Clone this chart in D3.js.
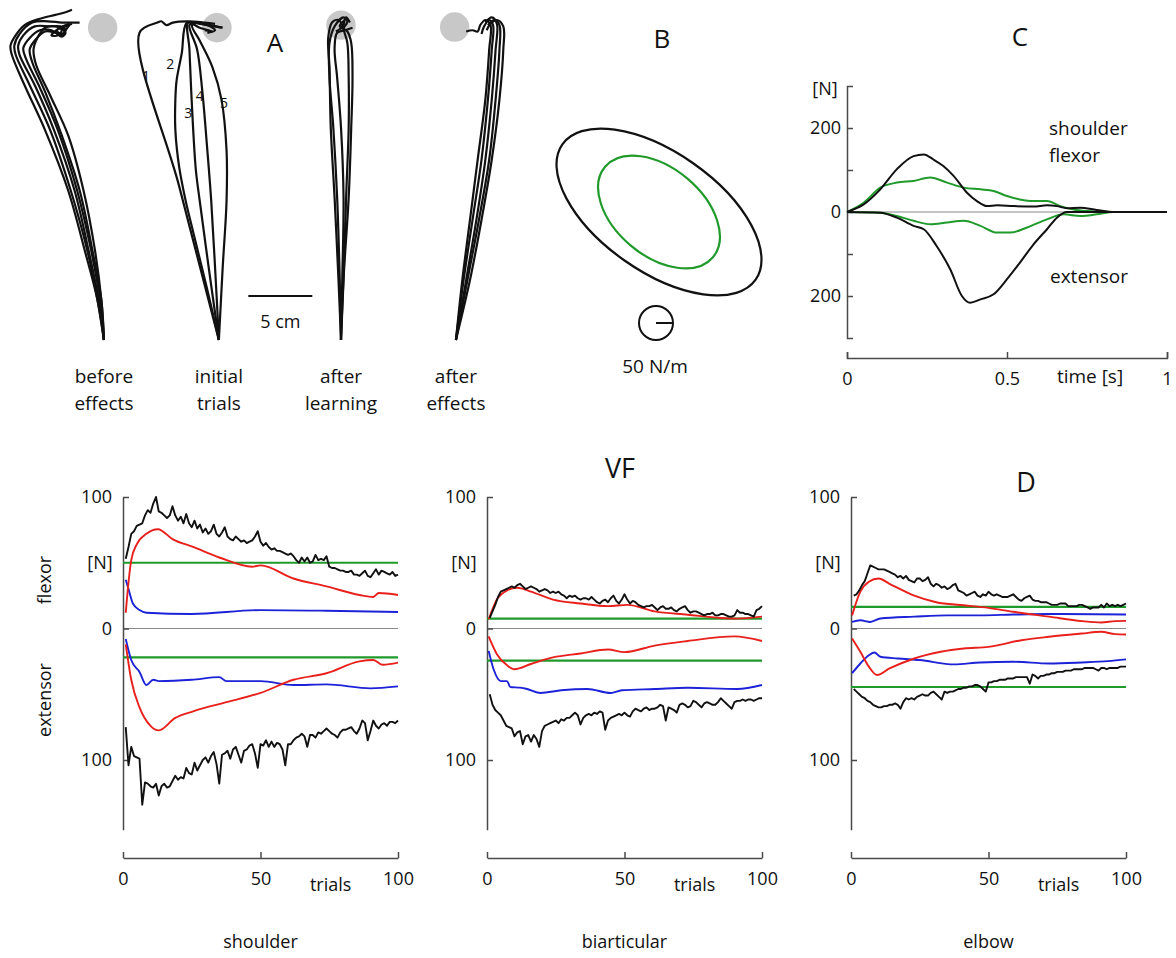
<!DOCTYPE html>
<html lang="en">
<head>
<meta charset="UTF-8">
<title>Force field learning</title>
<script src="https://d3js.org/d3.v7.min.js"></script>
<style>
  body { margin: 0; background: #fff; }
  text { font-family: "Open Sans", sans-serif; fill: #111; }
</style>
</head>
<body>
<svg width="1176" height="958"></svg>
<script>
// ---------- panel A: hand paths (cm, relative to start point) ----------
const groupNames = [["before", "effects"], ["initial", "trials"], ["after", "learning"], ["after", "effects"]];
const groupStartCm = [8.12, 17.1, 26.64, 35.62];
const targetCm = [[-0.1, 24.4], [-0.15, 24.4], [0, 24.6], [-0.1, 24.45]];

const beforeEffects = [
  [[0,0],[-0.5,3.1],[-1.5,7.0],[-2.8,11.7],[-4.6,16.4],[-6.2,19.9],[-7.2,22.3],[-7.3,23.0],[-6.9,23.8],[-6.2,24.6],[-5.0,25.1],[-3.8,25.4],[-3.0,25.6],[-2.5,25.8]],
  [[0,0],[-0.5,3.1],[-1.3,7.0],[-2.6,11.7],[-4.2,16.4],[-5.8,19.9],[-6.9,22.3],[-7.0,23.0],[-6.6,23.9],[-5.6,24.8],[-4.4,24.9],[-3.3,24.8],[-2.3,24.8],[-1.9,24.8]],
  [[0,0],[-0.4,3.1],[-1.2,7.0],[-2.3,11.7],[-3.9,16.4],[-5.4,19.9],[-6.6,22.3],[-6.7,23.0],[-6.3,23.8],[-5.4,24.5],[-4.2,24.5],[-3.4,24.5],[-3.0,24.2],[-3.3,23.9],[-3.7,24.2],[-3.0,24.5],[-2.5,24.7]],
  [[0,0],[-0.3,3.1],[-1.0,7.0],[-2.1,11.7],[-3.6,16.4],[-5.0,19.7],[-6.1,22.0],[-6.3,22.8],[-5.8,23.6],[-5.0,24.2],[-4.1,24.2],[-3.3,23.8],[-3.0,24.2],[-2.7,24.6]],
  [[0,0],[-0.2,3.1],[-0.9,7.0],[-1.9,11.7],[-3.3,16.0],[-4.6,19.4],[-5.6,21.7],[-5.8,22.7],[-5.4,23.4],[-4.6,24.1],[-3.8,24.0],[-3.3,23.7],[-3.0,24.0],[-3.3,24.4],[-2.8,24.6]],
  [[0,0],[-0.2,3.1],[-0.7,7.0],[-1.6,11.7],[-2.8,16.0],[-4.2,19.1],[-5.3,21.5],[-5.5,22.7],[-5.2,23.6],[-4.6,24.4],[-3.8,24.5],[-3.3,24.2],[-3.6,23.8],[-4.1,23.8],[-3.4,24.4],[-2.7,24.7]]
];
const initialTrials = [
  [[0,0],[-3.1,12.0],[-6.2,24.0],[-4.8,24.8],[-4.5,24.9],[-4.1,24.6],[-3.6,24.8],[-2.5,24.9],[-1.1,24.8],[-0.3,24.7]],
  [[0,0],[-0.9,3.9],[-2.0,8.4],[-2.6,10.9],[-3.1,13.5],[-3.4,16.4],[-3.4,18.8],[-3.3,20.3],[-2.9,22.4],[-2.5,24.8],[-1.5,24.7],[-0.3,24.5],[0.3,24.4]],
  [[0,0],[-0.8,5.7],[-1.5,10.9],[-1.8,13.3],[-2.1,18.2],[-2.3,22.7],[-2.4,24.8],[-1.5,24.4],[-0.5,24.1],[-1.1,24.2]],
  [[0,0],[-0.3,5.7],[-0.6,10.9],[-0.9,14.8],[-1.3,19.5],[-1.7,22.7],[-2.3,24.6],[-1.9,24.8],[-0.7,24.6],[0.2,24.4]],
  [[0,0],[0.3,5.7],[0.6,10.9],[0.6,14.8],[0.2,18.8],[-0.5,21.3],[-1.5,23.4],[-2.1,24.6],[-1.5,24.8],[-0.3,24.2],[-0.9,24.0]]
];
const trialLabels = ["1", "2", "3", "4", "5"];
const trialLabelCm = [[-5.7, 20.6], [-3.8, 21.6], [-2.4, 17.7], [-1.5, 19.1], [0.4, 18.5]];
const afterLearning = [
  [[0,0],[-0.2,4.8],[-0.5,11.1],[-0.8,16.6],[-0.9,21.3],[-1.0,23.6],[-0.7,24.8],[-0.2,25.0],[0.1,24.5],[-0.4,24.1]],
  [[0,0],[-0.1,4.8],[-0.3,11.1],[-0.6,16.6],[-0.9,20.5],[-0.9,23.2],[-0.5,24.5],[0.2,25.2],[0.5,24.9],[0.2,24.4]],
  [[0,0],[0.2,4.8],[0.4,11.1],[0.6,16.6],[0.6,20.5],[0.5,23.2],[0.2,24.4],[0.4,25.2],[0.7,24.8]],
  [[0,0],[0.1,4.8],[0.2,11.1],[0,16.6],[-0.3,20.5],[-0.5,22.8],[-0.3,24.0],[0.3,24.2],[0.9,24.4]],
  [[0,0],[0.2,4.8],[0.6,11.1],[0.8,16.6],[0.9,20.5],[0.8,23.2],[0.5,24.1],[-0.1,24.5],[0.3,25.0]]
];
const afterEffects = [
  [[0,0],[0.5,4.7],[1.1,9.4],[1.7,14.1],[2.3,18.8],[2.6,22.7],[2.7,24.6],[2.3,25.0],[1.9,24.6],[1.7,24.1],[1.3,24.2],[0.8,24.1]],
  [[0,0],[0.6,4.7],[1.3,9.4],[2.0,14.1],[2.5,18.8],[2.8,22.7],[2.9,24.6],[2.6,25.0],[2.2,24.5],[2.0,23.9]],
  [[0,0],[0.8,4.7],[1.6,9.4],[2.3,14.1],[2.8,18.8],[3.1,22.7],[3.2,24.7],[2.8,25.2],[2.3,24.8]],
  [[0,0],[0.9,4.7],[1.8,9.4],[2.6,14.1],[3.1,18.8],[3.4,22.7],[3.4,24.6],[3.0,25.0],[2.5,24.6]],
  [[0,0],[1.1,4.7],[2.0,9.4],[2.8,14.1],[3.4,18.8],[3.7,22.7],[3.7,24.5],[3.2,25.0],[2.7,24.7],[2.4,24.2]]
];
const scaleBarCm = [19.4, 24.4];

// ---------- panel B: stiffness ellipses (N/m, degrees) ----------
const ellipseNames = ["FF", "VF"];
const ellipseMajor = [347, 207];
const ellipseMinor = [175, 129];
const ellipseAngle = [35, 40];
const stiffnessRef = 50;

// ---------- panel C: shoulder muscle force over time ----------
const cFlexorFF = [[0,0],[0.052,18],[0.104,54],[0.156,102],[0.208,133],[0.24,137],[0.27,125],[0.30,110],[0.333,86],[0.375,46],[0.406,26],[0.4375,14],[0.469,16],[0.52,14],[0.583,13],[0.625,16],[0.656,14],[0.6875,9],[0.729,10],[0.78,5],[0.833,0],[1,0]];
const cFlexorVF = [[0,0],[0.052,22],[0.104,58],[0.156,70],[0.208,74],[0.26,82],[0.3125,70],[0.365,58],[0.417,54],[0.458,50],[0.5,38],[0.54,30],[0.583,26],[0.625,26],[0.667,14],[0.708,6],[0.75,2.4],[0.833,0],[1,0]];
const cExtensorVF = [[0,0],[0.104,-1.6],[0.156,-9.5],[0.208,-21],[0.26,-29],[0.3125,-25],[0.365,-21],[0.417,-33],[0.469,-49],[0.51,-49],[0.5625,-37],[0.625,-17.5],[0.677,-5.6],[0.73,-9.5],[0.78,-5.6],[0.833,0],[1,0]];
const cExtensorFF = [[0,0],[0.104,-1.6],[0.156,-13.5],[0.208,-33],[0.24,-41],[0.28,-81],[0.323,-137],[0.359,-200],[0.385,-216],[0.417,-208],[0.458,-196],[0.5,-160],[0.54,-121],[0.583,-77],[0.625,-41],[0.656,-13.5],[0.6875,0],[1,0]];
const cTimeTicks = [0, 0.5, 1];
const cForceTicks = [-200, -100, 0, 100, 200];

// ---------- panel D: force over trials (black = total, trial 1..100) ----------
const muscleNames = ["shoulder", "biarticular", "elbow"];
const trialTicks = [0, 50, 100];
const forceTicks = [-100, 0, 100];

const shoulderFlexTotal = [53,62,72,74,78,79,80,86,90,88,95,100,89,88,86,84,86,93,86,82,85,80,87,80,77,82,76,79,73,76,72,74,79,72,70,73,77,70,68,67,70,68,66,67,65,66,67,70,74,66,63,65,62,60,61,59,59,58,57,56,57,55,52,50,54,51,54,50,51,56,52,53,52,55,47,46,46,45,44,44,43,43,44,41,41,40,42,44,40,39,42,45,41,44,43,42,41,43,40,41];
const shoulderExtTotal = [-75,-104,-90,-97,-98,-99,-134,-117,-118,-120,-121,-118,-127,-120,-118,-121,-120,-116,-112,-115,-113,-114,-106,-110,-111,-102,-108,-104,-100,-98,-102,-97,-94,-103,-118,-96,-95,-93,-99,-92,-90,-96,-102,-93,-92,-89,-88,-95,-106,-88,-89,-85,-90,-86,-90,-87,-88,-92,-104,-88,-88,-85,-83,-82,-80,-82,-90,-81,-81,-83,-79,-80,-78,-76,-78,-80,-81,-83,-79,-77,-77,-76,-75,-78,-80,-76,-70,-72,-85,-78,-70,-74,-76,-73,-72,-74,-71,-71,-72,-70];
const biartFlexTotal = [8,13,18,24,28,29,30,31,32,31,33,34,32,30,31,32,31,30,28,29,30,29,27,28,27,28,26,25,23,25,24,25,23,22,23,23,22,24,22,20,19,21,22,20,23,25,21,19,22,26,22,19,21,20,18,17,16,17,17,18,16,14,16,17,15,15,16,14,13,15,16,17,14,12,13,13,12,11,10,11,11,12,10,10,11,11,10,9,9,10,14,12,12,11,11,10,9,14,15,17];
const biartExtTotal = [-50,-58,-62,-64,-66,-70,-74,-75,-76,-82,-79,-78,-88,-82,-81,-86,-81,-84,-90,-78,-74,-73,-72,-71,-70,-72,-69,-70,-68,-68,-66,-64,-66,-73,-68,-66,-65,-66,-64,-65,-63,-64,-77,-70,-68,-67,-66,-65,-66,-64,-66,-67,-63,-61,-62,-63,-61,-60,-62,-61,-61,-60,-58,-59,-70,-60,-61,-62,-64,-58,-57,-58,-60,-59,-55,-56,-58,-60,-57,-56,-57,-58,-58,-56,-53,-55,-57,-59,-61,-56,-55,-55,-54,-55,-54,-54,-55,-54,-53,-53];
const elbowFlexTotal = [25,26,29,33,36,42,48,47,46,45,45,45,44,43,42,41,39,40,38,40,37,36,35,38,38,36,37,39,34,32,34,33,31,32,30,31,33,34,29,28,27,25,26,27,28,25,24,26,25,28,26,25,26,25,24,24,24,25,26,24,22,21,23,24,25,22,21,21,20,20,20,19,18,18,18,19,19,19,17,17,17,17,18,18,17,16,15,16,16,16,18,16,19,17,18,17,18,17,18,19];
const elbowExtTotal = [-46,-48,-50,-52,-53,-55,-56,-58,-59,-60,-60,-59,-59,-58,-58,-57,-58,-61,-56,-53,-54,-53,-54,-52,-51,-50,-51,-51,-49,-48,-50,-52,-54,-48,-49,-48,-48,-47,-46,-46,-45,-45,-44,-44,-43,-43,-44,-46,-48,-41,-41,-40,-40,-39,-39,-39,-38,-38,-38,-37,-37,-37,-37,-37,-42,-35,-36,-38,-36,-36,-35,-35,-34,-34,-33,-33,-33,-32,-32,-32,-31,-31,-31,-31,-30,-30,-30,-30,-31,-32,-30,-30,-31,-30,-30,-30,-30,-29,-29,-29];

// red and blue components: [trial, N]
const shoulderRedFlex = [[1,12],[2,35],[3,52],[5,64],[8.5,72],[12.7,75.5],[18,68],[25.5,62],[35,54],[47,47],[50,48],[62,38],[74,32],[86,25.5],[91,24],[93,27],[100,25.5]];
const shoulderBlueFlex = [[1,37],[2,30],[3.6,19],[6,14],[8.5,12],[25,11],[50,14],[74,13.5],[100,12.5]];
const shoulderRedExt = [[1,-12],[3,-39],[6,-60],[10,-74],[13,-77.5],[19,-68],[25.5,-63],[37.6,-56],[50,-49],[62,-39],[74,-34],[86,-25],[91,-24],[94.5,-27.6],[100,-26]];
const shoulderBlueExt = [[1,-8],[3,-24],[6,-33],[8.5,-43],[11,-39],[13,-40],[25,-39],[35,-37],[37.6,-40],[50,-40],[62,-43],[74,-42.5],[90,-45.5],[100,-44]];
const biartRedFlex = [[0.6,7],[3.6,22],[7.3,29],[11,31],[16,28],[24,22],[34,19],[44,17],[51,18],[61,13],[73,10.5],[85,8],[91,7.5],[100,9]];
const biartRedExt = [[0.6,-6],[3.6,-19.5],[7.3,-28],[10,-31],[16,-27],[24,-22],[34,-19],[44,-16],[50,-18],[61,-13],[73,-9.5],[90,-6],[100,-9.5]];
const biartBlueExt = [[0.6,-17],[2.4,-31],[5,-40],[7.3,-40],[8.5,-44.5],[12,-45],[14.6,-46],[19.5,-49],[27,-47],[36.5,-46],[45,-49],[49,-47],[61,-46],[73,-45],[91,-46],[100,-43]];
const elbowRedFlex = [[0.4,10],[3.4,28],[6.5,35.5],[10,38],[14,34],[23,25],[31,20],[41,17.7],[50,15.7],[59,12.7],[72,9],[84,5.6],[91,4.6],[96,5.6],[100,5.8]];
const elbowBlueFlex = [[0.4,5],[3.4,6.3],[7,5],[10.7,7.6],[23,9],[35,10],[47,10],[59,10.6],[72,11],[100,10.6]];
const elbowRedExt = [[0.4,-7.6],[3.4,-17.7],[6.5,-29],[9.5,-35.4],[14,-30.4],[23,-22.8],[32.6,-17.7],[41,-15.2],[50,-14],[62,-8.9],[72,-6.3],[84,-3.8],[91,-2.5],[96,-4.3],[100,-4.6]];
const elbowBlueExt = [[0.4,-34],[3.4,-26.6],[6.5,-20.3],[8.5,-18.2],[10.7,-21.5],[17,-22.8],[25,-24],[37.5,-27.3],[47,-25.8],[59,-25.3],[72,-26.6],[84,-25.8],[93.5,-24.8],[100,-23.5]];

// green horizontal levels [flexor, extensor]
const shoulderGreen = [50, -22];
const biartGreen = [7.5, -24.5];
const elbowGreen = [16.5, -44.5];

const BLACK = "#111", RED = "#e8201c", BLUE = "#1c22d8", GREEN = "#1f9a2b", GREY = "#c8c8c8", AXIS = "#4a4a4a";

const svg = d3.select("svg");

function label(x, y, txt, size, anchor) {
    return svg.append("text").attr("x", x).attr("y", y)
        .attr("text-anchor", anchor || "middle")
        .style("font-size", size + "px").text(txt);
}

// ---------- panel A ----------
const cmX = d3.scaleLinear().domain([0, 40]).range([0, 512]);
const cmY = d3.scaleLinear().domain([0, 26]).range([340, 7.2]);
const groups = [beforeEffects, initialTrials, afterLearning, afterEffects];

groups.forEach((paths, gi) => {
    const x0 = groupStartCm[gi];
    const t = targetCm[gi];
    svg.append("circle")
        .attr("cx", cmX(x0 + t[0])).attr("cy", cmY(t[1]))
        .attr("r", cmX(1.15) - cmX(0))
        .style("fill", GREY);
    const line = d3.line()
        .x(d => cmX(x0 + d[0]))
        .y(d => cmY(d[1]))
        .curve(d3.curveCatmullRom.alpha(0.5));
    svg.append("g").selectAll("path")
        .data(paths).enter().append("path")
        .attr("d", line)
        .style("fill", "none").style("stroke", BLACK).style("stroke-width", 2.2);
    label(cmX(x0), 383, groupNames[gi][0], 19);
    label(cmX(x0), 410, groupNames[gi][1], 19);
});

svg.append("g").selectAll("text")
    .data(trialLabels).enter().append("text")
    .attr("x", (d, i) => cmX(groupStartCm[1] + trialLabelCm[i][0]))
    .attr("y", (d, i) => cmY(trialLabelCm[i][1]) + 5)
    .attr("text-anchor", "middle")
    .style("font-size", "14px").style("fill", "#111")
    .text(d => d);

svg.append("line")
    .attr("x1", cmX(scaleBarCm[0])).attr("x2", cmX(scaleBarCm[1]))
    .attr("y1", 296).attr("y2", 296)
    .style("stroke", BLACK).style("stroke-width", 2);
label((cmX(scaleBarCm[0]) + cmX(scaleBarCm[1])) / 2, 328, "5 cm", 18);
label(275, 52, "A", 26);

// ---------- panel B ----------
const kScale = d3.scaleLinear().domain([0, 50]).range([0, 17]);
const bCenter = [659, 212];
svg.append("g").selectAll("ellipse")
    .data(ellipseNames).enter().append("ellipse")
    .attr("cx", 0).attr("cy", 0)
    .attr("rx", (d, i) => kScale(ellipseMajor[i]))
    .attr("ry", (d, i) => kScale(ellipseMinor[i]))
    .attr("transform", (d, i) => `translate(${bCenter[0]},${bCenter[1]}) rotate(${ellipseAngle[i]})`)
    .style("fill", "none")
    .style("stroke", (d, i) => i === 0 ? BLACK : GREEN)
    .style("stroke-width", 2.2);

svg.append("circle").attr("cx", 656).attr("cy", 323).attr("r", kScale(stiffnessRef))
    .style("fill", "none").style("stroke", BLACK).style("stroke-width", 2);
svg.append("line").attr("x1", 656).attr("y1", 323).attr("x2", 656 + kScale(stiffnessRef)).attr("y2", 323)
    .style("stroke", BLACK).style("stroke-width", 2);
label(655, 373, "50 N/m", 19);
label(662, 48, "B", 26);

// ---------- panel C ----------
const cx = d3.scaleLinear().domain([0, 1]).range([847, 1167]);
const cy = d3.scaleLinear().domain([-200, 200]).range([296, 128]);

svg.append("line")
    .attr("x1", cx(0)).attr("x2", cx(1)).attr("y1", cy(0)).attr("y2", cy(0))
    .style("stroke", "#888").style("stroke-width", 1.2);

svg.append("g")
    .attr("transform", `translate(${cx(0)},0)`)
    .call(d3.axisLeft(d3.scaleLinear().domain([-300, 300]).range([338, 86]))
        .tickValues(cForceTicks)
        .tickSize(-6).tickSizeOuter(-6).tickPadding(6)
        .tickFormat(d => d % 200 === 0 ? Math.abs(d) : ""));
svg.append("g")
    .attr("transform", "translate(0,358)")
    .call(d3.axisBottom(cx).tickValues(cTimeTicks)
        .tickSize(-6).tickSizeOuter(-6).tickPadding(14)
        .tickFormat(d => d === 0.5 ? "0.5" : d3.format("d")(d)));

const cLine = d3.line().x(d => cx(d[0])).y(d => cy(d[1])).curve(d3.curveMonotoneX);
[[cFlexorVF, GREEN], [cExtensorVF, GREEN], [cFlexorFF, BLACK], [cExtensorFF, BLACK]].forEach(s => {
    svg.append("path").datum(s[0]).attr("d", cLine)
        .style("fill", "none").style("stroke", s[1]).style("stroke-width", 2);
});
label(825, 95, "[N]", 18);
label(1049, 135, "shoulder", 19, "start");
label(1049, 162, "flexor", 19, "start");
label(1050, 283, "extensor", 19, "start");
label(1090, 383, "time [s]", 19);
label(1020, 46, "C", 26);

// ---------- panel D ----------
const dy = d3.scaleLinear().domain([-100, 100]).range([760, 497]);
const panelX0 = [123, 487, 851];
const totals = [[shoulderFlexTotal, shoulderExtTotal], [biartFlexTotal, biartExtTotal], [elbowFlexTotal, elbowExtTotal]];
const reds = [[shoulderRedFlex, shoulderRedExt], [biartRedFlex, biartRedExt], [elbowRedFlex, elbowRedExt]];
const blues = [[shoulderBlueFlex, shoulderBlueExt], [[], biartBlueExt], [elbowBlueFlex, elbowBlueExt]];
const greens = [shoulderGreen, biartGreen, elbowGreen];

panelX0.forEach((x0, pi) => {
    const dx = d3.scaleLinear().domain([0, 100]).range([x0, x0 + 275]);
    const g = svg.append("g");

    g.append("line")
        .attr("x1", dx(0)).attr("x2", dx(100)).attr("y1", dy(0)).attr("y2", dy(0))
        .style("stroke", "#888").style("stroke-width", 1.2);

    g.append("g")
        .attr("transform", `translate(${x0},0)`)
        .call(d3.axisLeft(d3.scaleLinear().domain([-153, 100]).range([dy(-153), dy(100)]))
            .tickValues(forceTicks).tickSize(-6).tickSizeOuter(0).tickPadding(11)
            .tickFormat(d => Math.abs(d)));
    g.append("g")
        .attr("transform", "translate(0,858)")
        .call(d3.axisBottom(dx).tickValues(trialTicks)
            .tickSize(-6).tickSizeOuter(0).tickPadding(14));

    greens[pi].forEach(v => {
        g.append("line")
            .attr("x1", dx(0)).attr("x2", dx(100)).attr("y1", dy(v)).attr("y2", dy(v))
            .style("stroke", GREEN).style("stroke-width", 2.2);
    });

    const smooth = d3.line().x(d => dx(d[0])).y(d => dy(d[1])).curve(d3.curveMonotoneX);
    blues[pi].forEach(s => {
        if (s.length) g.append("path").datum(s).attr("d", smooth)
            .style("fill", "none").style("stroke", BLUE).style("stroke-width", 1.9);
    });
    reds[pi].forEach(s => {
        g.append("path").datum(s).attr("d", smooth)
            .style("fill", "none").style("stroke", RED).style("stroke-width", 1.9);
    });
    const jag = d3.line().x((d, i) => dx(i + 1)).y(d => dy(d));
    totals[pi].forEach(s => {
        g.append("path").datum(s).attr("d", jag)
            .style("fill", "none").style("stroke", BLACK).style("stroke-width", 1.9)
            .style("stroke-linejoin", "round");
    });

    label(x0 - 23, 569, "[N]", 18);
    label(dx(75.5), 891, "trials", 18);
    label(dx(50), 948, muscleNames[pi], 18);
});

svg.selectAll(".tick text").attr("font-size", null).attr("font-family", null)
    .style("font-size", "18px").style("fill", "#111");
svg.selectAll(".domain, .tick line").style("stroke", AXIS).style("stroke-width", 1.5);

svg.append("text").attr("transform", "translate(51,580) rotate(-90)")
    .attr("text-anchor", "middle").style("font-size", "18px").text("flexor");
svg.append("text").attr("transform", "translate(51,700) rotate(-90)")
    .attr("text-anchor", "middle").style("font-size", "18px").text("extensor");
label(620, 478, "VF", 27);
label(1026, 492, "D", 27);
</script>
</body>
</html>
